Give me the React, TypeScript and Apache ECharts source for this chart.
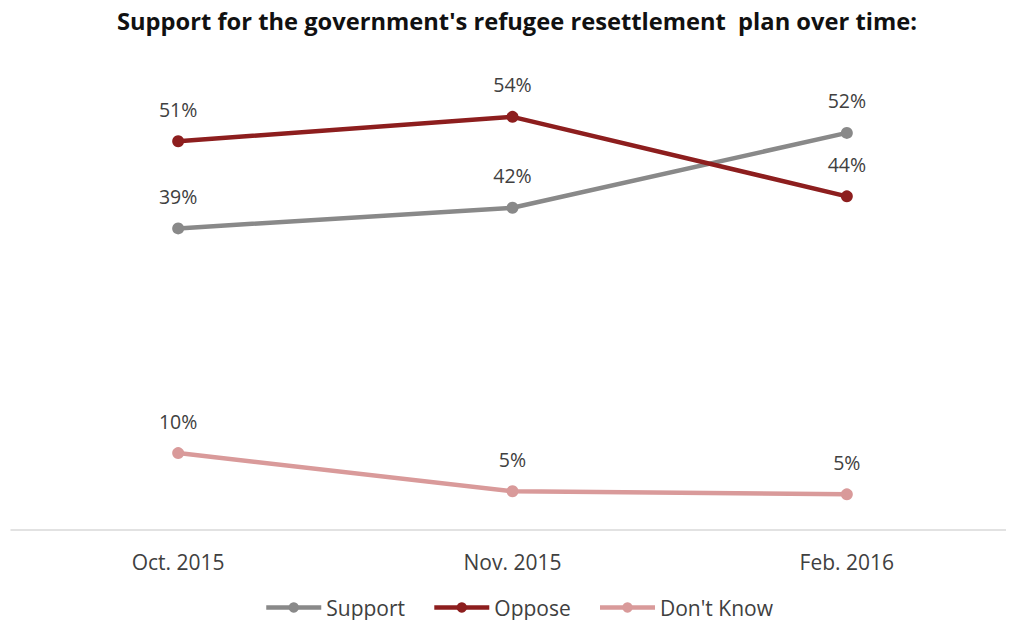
import React, { useEffect, useRef } from "react";
import * as echarts from "echarts";

const categories = ["Oct. 2015", "Nov. 2015", "Feb. 2016"];
const supportValues = [39.4, 42.1, 51.9];
const opposeValues = [50.8, 54.0, 43.6];
const dontKnowValues = [10.0, 5.0, 4.6];
const seriesNames = ["Support", "Oppose", "Don't Know"];
const titleText = "Support for the government's refugee resettlement  plan over time:";

const FONT = "'Open Sans', 'Noto Sans', sans-serif";
const colors = ["#898989", "#8d1e1e", "#d99a9a"];

export default function App() {
  const ref = useRef<HTMLDivElement>(null);
  useEffect(() => {
    if (!ref.current) return;
    const chart = echarts.init(ref.current, undefined, { renderer: "svg" });
    const mk = (name: string, data: number[], color: string) => ({
      name,
      type: "line",
      data,
      symbol: "circle",
      symbolSize: 12,
      lineStyle: { color, width: 4.5 },
      itemStyle: { color },
      label: {
        show: true,
        position: "top",
        distance: 16,
        color: "#404040",
        fontFamily: FONT,
        fontSize: 19.5,
        formatter: (p: any) => Math.round(p.value) + "%",
      },
    });
    chart.setOption({
      animation: false,
      backgroundColor: "#ffffff",
      title: {
        text: titleText,
        left: 117,
        top: 9,
        padding: 0,
        textStyle: { fontFamily: FONT, fontSize: 23.7, fontWeight: "bold", color: "#111111" },
      },
      grid: { left: 11, right: 0, top: 71, bottom: 98.5, containLabel: false },
      xAxis: {
        type: "category",
        data: categories,
        boundaryGap: true,
        axisLine: { lineStyle: { color: "#d9d9d9", width: 1.5 } },
        axisTick: { show: false },
        axisLabel: { color: "#404040", fontFamily: FONT, fontSize: 21, margin: 22 },
      },
      yAxis: {
        type: "value",
        min: 0,
        max: 60,
        show: false,
        splitLine: { show: false },
      },
      legend: {
        data: seriesNames,
        top: 597,
        left: 264,
        padding: 0,
        itemWidth: 55,
        itemHeight: 13,
        itemGap: 27,
        lineStyle: { width: 4.5 },
        textStyle: { color: "#404040", fontFamily: FONT, fontSize: 21 },
      },
      series: [
        mk(seriesNames[0], supportValues, colors[0]),
        mk(seriesNames[1], opposeValues, colors[1]),
        mk(seriesNames[2], dontKnowValues, colors[2]),
      ],
    });
    return () => chart.dispose();
  }, []);
  return <div ref={ref} style={{ width: 1014, height: 628, margin: -8 }} />;
}
